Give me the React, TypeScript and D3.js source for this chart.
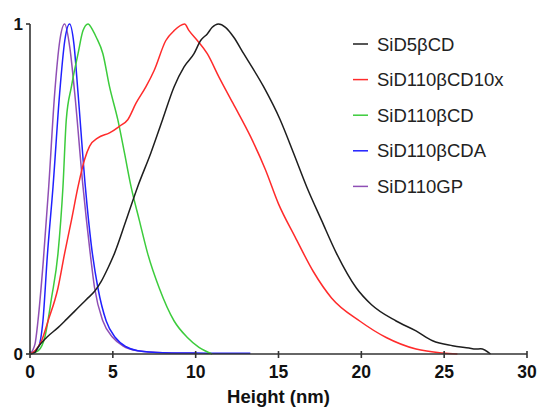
import React from "react";
import * as d3 from "d3";

const xTicks = [0, 5, 10, 15, 20, 25, 30];
const yTicks = [0, 1];

const seriesNames = ["SiD5βCD", "SiD110βCD10x", "SiD110βCD", "SiD110βCDA", "SiD110GP"];
const seriesColors = ["#1e1e1e", "#ff2b2b", "#3ccc3c", "#2020ff", "#8f4fb5"];

const blackH = [0, 0.3, 0.48, 1.0, 1.69, 2.2, 2.7, 3.1, 3.5, 3.9, 4.3, 4.7, 5.1, 5.8, 6.5, 7.3, 8.0, 8.7, 9.3, 9.9, 10.3, 10.7, 11.0, 11.37, 11.8, 12.3, 12.9, 14.1, 15.1, 15.9, 16.7, 17.6, 18.5, 19.7, 20.6, 22.1, 23.3, 24.3, 25.5, 26.5, 26.9, 27.2, 27.8];
const blackV = [0, 0.005, 0.02, 0.05, 0.08, 0.105, 0.13, 0.15, 0.17, 0.19, 0.22, 0.26, 0.305, 0.405, 0.507, 0.61, 0.71, 0.81, 0.87, 0.91, 0.95, 0.97, 0.99, 1.0, 0.99, 0.96, 0.91, 0.81, 0.71, 0.61, 0.507, 0.405, 0.305, 0.2, 0.15, 0.1, 0.07, 0.04, 0.025, 0.018, 0.015, 0.016, 0];

const redH = [0, 0.3, 0.7, 1.09, 1.69, 2.09, 2.5, 2.9, 3.3, 3.6, 4.1, 4.8, 5.4, 5.9, 6.4, 7.0, 7.5, 8.2, 8.7, 9.33, 9.6, 10.1, 10.7, 11.4, 12.25, 13.3, 14.2, 15.0, 16.0, 17.1, 18.2, 19.9, 21.5, 23.3, 24.9, 25.8];
const redV = [0, 0.01, 0.04, 0.1, 0.2, 0.305, 0.405, 0.507, 0.59, 0.63, 0.655, 0.67, 0.69, 0.71, 0.76, 0.81, 0.86, 0.95, 0.98, 1.0, 0.98, 0.95, 0.91, 0.84, 0.76, 0.66, 0.56, 0.455, 0.355, 0.25, 0.17, 0.1, 0.05, 0.015, 0.003, 0];

const greenH = [0, 0.5, 0.89, 1.3, 1.69, 1.99, 2.19, 2.5, 2.9, 3.2, 3.5, 3.8, 4.0, 4.4, 4.8, 5.3, 5.7, 6.1, 6.6, 7.1, 7.8, 8.7, 9.5, 10.2, 11.0];
const greenV = [0, 0.01, 0.05, 0.17, 0.305, 0.507, 0.71, 0.81, 0.91, 0.98, 1.0, 0.98, 0.96, 0.91, 0.81, 0.71, 0.61, 0.507, 0.405, 0.305, 0.2, 0.1, 0.05, 0.02, 0];

const blueH = [0, 0.5, 0.78, 1.05, 1.39, 1.79, 2.1, 2.39, 2.65, 2.9, 3.34, 3.7, 4.1, 4.6, 5.15, 5.8, 6.5, 8, 10, 12, 13.3];
const blueV = [0, 0.02, 0.1, 0.3, 0.507, 0.79, 0.95, 1.0, 0.94, 0.79, 0.507, 0.33, 0.2, 0.1, 0.05, 0.022, 0.01, 0.004, 0.003, 0.002, 0.002];

const purpleH = [0, 0.3, 0.48, 0.8, 1.13, 1.49, 1.8, 2.09, 2.4, 2.7, 3.2, 3.6, 3.9, 4.4, 5.0, 5.6, 6.5, 8, 10];
const purpleV = [0, 0.03, 0.1, 0.28, 0.507, 0.79, 0.95, 1.0, 0.93, 0.79, 0.507, 0.32, 0.2, 0.1, 0.05, 0.025, 0.01, 0.004, 0.002];

const seriesH = [blackH, redH, greenH, blueH, purpleH];
const seriesV = [blackV, redV, greenV, blueV, purpleV];

const FONT = "'Liberation Sans', Arial, sans-serif";

export default function App() {
  const x = d3.scaleLinear().domain([0, 30]).range([30, 527]);
  const y = d3.scaleLinear().domain([0, 1]).range([354, 24]);
  const line = d3
    .line<[number, number]>()
    .x((d) => x(d[0]))
    .y((d) => y(d[1]))
    .curve(d3.curveMonotoneX);

  const axisColor = "#333";
  // draw order: purple, blue, green, red, black? keep original-like layering
  const order = [4, 3, 2, 1, 0];

  return (
    <svg
      width={538}
      height={407}
      style={{ position: "absolute", left: 0, top: 0, background: "#fff" }}
    >
      <rect width={538} height={407} fill="#fff" />
      {order.map((i) => {
        const pts = seriesH[i].map((h, k) => [h, seriesV[i][k]] as [number, number]);
        return (
          <path
            key={i}
            d={line(pts) || ""}
            fill="none"
            stroke={seriesColors[i]}
            strokeWidth={1.5}
            strokeLinejoin="round"
          />
        );
      })}
      {/* y axis */}
      <line x1={x(0)} x2={x(0)} y1={y(1)} y2={y(0)} stroke={axisColor} strokeWidth={1.6} />
      {yTicks.map((t) => (
        <g key={"y" + t}>
          <line x1={x(0) - 4} x2={x(0)} y1={y(t)} y2={y(t)} stroke={axisColor} strokeWidth={1.6} />
          <text
            x={x(0) - 7}
            y={y(t)}
            textAnchor="end"
            dominantBaseline="central"
            fontFamily={FONT}
            fontWeight="bold"
            fontSize={17}
            fill="#111"
          >
            {t}
          </text>
        </g>
      ))}
      {/* x axis */}
      <line x1={x(0)} x2={x(30)} y1={y(0)} y2={y(0)} stroke={axisColor} strokeWidth={1.6} />
      {xTicks.map((t) => (
        <g key={"x" + t}>
          <line x1={x(t)} x2={x(t)} y1={y(0) - 3} y2={y(0) + 4} stroke={axisColor} strokeWidth={1.6} />
          <text
            x={x(t)}
            y={y(0) + 24}
            textAnchor="middle"
            fontFamily={FONT}
            fontWeight="bold"
            fontSize={17.5}
            fill="#111"
          >
            {t}
          </text>
        </g>
      ))}
      <text
        x={(x(0) + x(30)) / 2}
        y={402.5}
        textAnchor="middle"
        fontFamily={FONT}
        fontWeight="bold"
        fontSize={18.5}
        fill="#111"
      >
        Height (nm)
      </text>
      {/* legend */}
      {seriesNames.map((n, i) => {
        const ly = 44 + i * 35.6;
        return (
          <g key={n}>
            <line x1={353} x2={368} y1={ly} y2={ly} stroke={seriesColors[i]} strokeWidth={1.5} />
            <text
              x={377}
              y={ly}
              dominantBaseline="central"
              fontFamily={FONT}
              fontSize={18.5}
              fill="#222"
            >
              {n}
            </text>
          </g>
        );
      })}
    </svg>
  );
}
